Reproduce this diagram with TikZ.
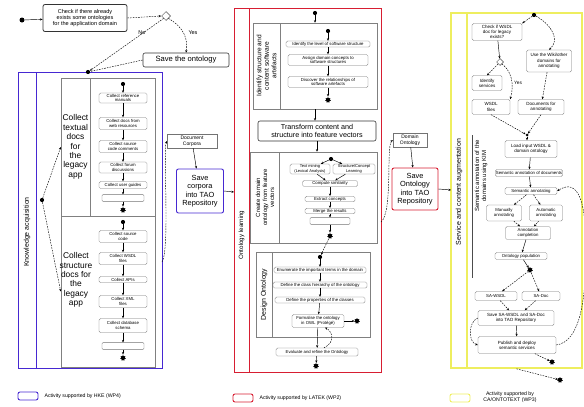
\documentclass[tikz,border=0pt]{standalone}
\usepackage{fontspec}
\setmainfont{Liberation Sans}
\usetikzlibrary{arrows.meta,shapes.geometric,calc}
\definecolor{kablue}{RGB}{70,40,210}
\definecolor{olred}{RGB}{215,30,50}
\definecolor{sayel}{RGB}{238,238,95}
\newcommand\fsz[2]{\fontsize{#1}{#2}\selectfont}
\begin{document}
\begin{tikzpicture}[x=1pt,y=-1pt,
  act/.style={draw=black!55, line width=0.35pt, rounded corners=1.5pt, fill=white, align=center, inner sep=0.6pt, font=\fsz{4.3}{4.9}},
  joinbar/.style={draw=black!55, line width=0.35pt, rounded corners=1pt, minimum height=4pt, fill=white},
  dot/.style={circle, fill=black, inner sep=0pt, minimum size=4.2pt},
  fin/.style={star, star points=7, star point ratio=1.6, fill=black, inner sep=0pt, minimum size=6pt},
  flow/.style={-{Stealth[length=2.6pt,width=2.2pt]}, line width=0.45pt},
  dflow/.style={flow, dash pattern=on 1.6pt off 1.1pt},
  dline/.style={line width=0.45pt, dash pattern=on 1.6pt off 1.1pt},
  lanebox/.style={draw=black!50, line width=0.5pt, inner sep=0pt},
  lanedraw/.style={draw=black!50, line width=0.5pt},
  big/.style={draw=black!80, line width=0.6pt, rounded corners=2pt, align=center, fill=white, inner sep=0.5pt},
  vlabel/.style={rotate=90, align=center},
  legbox/.style={rounded corners=2pt, line width=0.9pt, minimum width=20pt, minimum height=8pt, inner sep=0pt}
]
\useasboundingbox (0,0) rectangle (584,407);

% ---------- swimlane frames ----------
\node[draw=kablue, line width=1pt, minimum width=144pt, minimum height=296pt, inner sep=0pt] (kabox) at (90,220) {};
\draw[kablue, line width=0.8pt] (36,72) -- (36,368);
\node[vlabel, font=\fsz{7}{8}] (kalab) at (27,232) {Knowledge acquisition};

\node[draw=olred, line width=1pt, minimum width=147pt, minimum height=364pt, inner sep=0pt] (olbox) at (307.5,190) {};
\draw[olred, line width=0.8pt] (249,8) -- (249,372);
\node[vlabel, font=\fsz{6.2}{7}] (ollab) at (241.5,235) {Ontology learning};

\node[draw=sayel, line width=1.6pt, minimum width=131pt, minimum height=355pt, inner sep=0pt] (sabox) at (516.5,190.5) {};
\draw[sayel, line width=1.4pt] (467,13) -- (467,368);
\node[vlabel, font=\fsz{7}{8}] (salab) at (459,192) {Service and content augmentation};
\draw[black!70, line width=0.6pt] (472,135) -- (472,278);
\node[vlabel, font=\fsz{6}{6.9}] (salab2) at (481,176) {Semantic annotation of the\\domains using KIM};

% ---------- entry decision ----------
\node[dot, minimum size=5pt] (st) at (22,20) {};
\node[big, line width=0.8pt, minimum width=84pt, minimum height=27pt, font=\fsz{5.6}{6.4}] (chk) at (85,18) {Check if there already\\exists some ontologies\\for the application domain};
\node[diamond, draw=black!70, line width=0.5pt, minimum size=9pt, inner sep=0pt] (dec) at (166,16) {};
\node[big, minimum width=86pt, minimum height=14pt, font=\fsz{7.6}{8}] (savo) at (186,60) {Save the ontology};
\node[dot] (kain) at (88,72) {};
\node[font=\fsz{5.5}{6}] (lno) at (142,33) {No};
\node[font=\fsz{5.5}{6}] (lyes) at (193,33) {Yes};
\draw[flow] (st) -- (chk);
\draw[dflow] (chk.east) -- (dec.west);
\draw[dflow] (dec.south west) -- (kain);
\draw[dflow] (dec.south east) .. controls (185,28) and (188,40) .. (savo.north);
\draw[dline] (savo.west) -- (kain);

% ---------- knowledge acquisition ----------
\node[dot] (kafork) at (42,200) {};
\node[lanebox, minimum width=94pt, minimum height=138pt] (lt) at (108,147) {};
\draw[lanedraw] (90,78) -- (90,216);
\node[font=\fsz{8.4}{9.4}, align=center] (ltlab) at (75.5,147) {Collect\\textual\\docs\\for\\the\\legacy\\app};
\node[lanebox, minimum width=94pt, minimum height=151pt] (ls) at (108,291.5) {};
\node[font=\fsz{8.4}{9.4}, align=center] (lslab) at (76,280) {Collect\\structure\\docs for\\the\\legacy\\app};
\draw[dflow] (kafork) -- (lt.west);
\draw[dflow] (kafork) -- (ls.west);

\node[dot] (t0) at (123,84) {};
\node[act, minimum width=48pt, minimum height=10pt] (t1) at (123,98) {Collect reference\\manuals};
\node[act, minimum width=48pt, minimum height=12pt] (t2) at (123,123.5) {Collect docs from\\web resources};
\node[act, minimum width=48pt, minimum height=12pt] (t3) at (123,146.5) {Collect source\\code comments};
\node[act, minimum width=48pt, minimum height=11pt] (t4) at (123,167.5) {Collect forum\\discussions};
\node[act, minimum width=48pt, minimum height=7pt] (t5) at (123,185) {Collect user guides};
\node[joinbar, minimum width=42pt] (t6) at (123,198) {};
\node[fin] (t7) at (123,210) {};
\foreach \a/\b in {t0/t1,t1/t2,t2/t3,t3/t4,t4/t5,t5/t6,t6/t7} \draw[flow] (\a) -- (\b);

\node[dot] (s0) at (123,222) {};
\node[act, minimum width=48pt, minimum height=12pt] (s1) at (123,236.5) {Collect source\\code};
\node[act, minimum width=48pt, minimum height=12pt] (s2) at (123,258.5) {Collect WSDL\\files};
\node[act, minimum width=48pt, minimum height=6pt] (s3) at (123,279.5) {Collect APIs};
\node[act, minimum width=48pt, minimum height=12pt] (s4) at (123,301.5) {Collect XML\\files};
\node[act, minimum width=48pt, minimum height=14pt] (s5) at (123,325.5) {Collect database\\schema};
\node[joinbar, minimum width=42pt] (s6) at (123,346) {};
\node[fin] (s7) at (123,358) {};
\foreach \a/\b in {s0/s1,s1/s2,s2/s3,s3/s4,s4/s5,s5/s6,s6/s7} \draw[flow] (\a) -- (\b);

% ---------- corpora ----------
\node[act, sharp corners, minimum width=50pt, minimum height=14pt, font=\fsz{5}{5.8}] (corp) at (192,141) {Document\\Corpora};
\node[big, draw=kablue, line width=0.9pt, minimum width=47pt, minimum height=44pt, font=\fsz{7.4}{8.4}] (savc) at (200,191) {Save\\corpora\\into TAO\\Repository};
\coordinate (kaout) at (162,262);
\coordinate (olin) at (234,192);
\draw[dflow] (kaout) .. controls (170,250) and (163,150) .. (corp.west);
\draw[flow] (corp) -- (savc);
\draw[flow] (savc.east) -- (olin);

% ---------- ontology learning ----------
\node[dot] (ol0) at (315,13) {};
\node[lanebox, minimum width=124pt, minimum height=86pt] (sub1) at (315,66) {};
\draw[lanedraw] (280,23) -- (280,109);
\node[vlabel, font=\fsz{6.6}{7.6}] (sub1lab) at (266.5,66) {Identify structure and\\content software\\artefacts};
\draw[flow] (ol0) -- (sub1.north);
\node[dot] (a0) at (328,31) {};
\node[act, minimum width=84pt, minimum height=6pt] (a1) at (328,44) {Identify the level of software structure};
\node[act, minimum width=80pt, minimum height=11pt] (a2) at (328,60) {Assign domain concepts to\\software structures};
\node[act, minimum width=80pt, minimum height=11pt] (a3) at (328,82) {Discover the relationships of\\software artefacts};
\node[fin] (a4) at (328,100) {};
\foreach \a/\b in {a0/a1,a1/a2,a2/a3,a3/a4} \draw[flow] (\a) -- (\b);

\node[big, minimum width=118pt, minimum height=20pt, font=\fsz{7.2}{8}] (trf) at (317,131) {Transform content and\\structure into feature vectors};
\draw[flow] (sub1.south) -- (sub1.south |- trf.north);

\node[lanebox, minimum width=127pt, minimum height=91pt] (sub3) at (313.5,197.5) {};
\draw[lanedraw] (279,152) -- (279,243);
\node[vlabel, font=\fsz{6}{7}] (sub3lab) at (265,197.5) {Create domain\\ontology from feature\\vectors};
\draw[flow] (trf.south) -- (trf.south |- sub3.north);
\node[dot] (b0) at (331,159) {};
\node[act, minimum width=40pt, minimum height=10pt, font=\fsz{4}{4.6}] (b1) at (310,169) {Text mining\\(Lexical Analysis)};
\node[act, minimum width=42pt, minimum height=10pt, font=\fsz{4}{4.6}] (b2) at (354,169) {Structure/Concept\\Learning};
\node[act, minimum width=55pt, minimum height=6pt] (b3) at (330,183.5) {Compute similarity};
\node[act, minimum width=50pt, minimum height=5.5pt] (b4) at (330,199) {Extract concepts};
\node[act, minimum width=50pt, minimum height=5.5pt] (b5) at (330,211) {Merge the results};
\node[joinbar, minimum width=40pt] (b6) at (330,221) {};
\node[fin] (b7) at (330,236) {};
\foreach \a/\b in {b0/b1,b0/b2,b1/b3,b2/b3,b3/b4,b4/b5,b5/b6,b6/b7} \draw[flow] (\a) -- (\b);

\node[lanebox, minimum width=114pt, minimum height=85pt] (sub4) at (313,294.5) {};
\draw[lanedraw] (272,252) -- (272,337);
\node[vlabel, font=\fsz{7}{8}] (sub4lab) at (264,294.5) {Design Ontology};
\node[dot] (d0) at (320,257) {};
\draw[dflow] (b7) -- (d0);
\node[act, minimum width=92pt, minimum height=6pt] (d1) at (320,270) {Enumerate the important terms in the domain};
\node[act, minimum width=94pt, minimum height=6pt] (d2) at (320,285) {Define the class hierarchy of the ontology};
\node[act, minimum width=90pt, minimum height=6pt] (d3) at (320,300) {Define the properties of the classes};
\node[act, minimum width=52pt, minimum height=13pt] (d4) at (318,321) {Formalise the ontology\\in OWL (Protégé)};
\node[fin] (d4f) at (357,321) {};
\node[act, minimum width=82pt, minimum height=8pt] (d5) at (317,352) {Evaluate and refine the Ontology};
\node[fin] (d6) at (316,366) {};
\foreach \a/\b in {d0/d1,d1/d2,d2/d3,d3/d4,d4/d5,d4/d4f,d5/d6} \draw[flow] (\a) -- (\b);
\draw[dflow] ($(d5.north)+(7,0)$) .. controls (336,342) and (332,331) .. ($(d4.south)+(7,0)$);

% ---------- domain ontology ----------
\node[act, sharp corners, minimum width=34pt, minimum height=14pt, font=\fsz{5}{5.8}] (dont) at (410,140) {Domain\\Ontology};
\node[big, draw=olred, line width=0.9pt, minimum width=46pt, minimum height=42pt, font=\fsz{7.4}{8.4}] (savont) at (415,189) {Save\\Ontology\\into TAO\\Repository};
\coordinate (olout) at (381,222);
\coordinate (sain) at (451,190);
\draw[dflow] (olout) .. controls (393,212) and (386,146) .. (dont.west);
\draw[flow] (dont) -- (savont);
\draw[flow] (savont.east) -- (sain);

% ---------- service and content augmentation ----------
\node[dot] (y0) at (534,15) {};
\node[act, minimum width=50pt, minimum height=17pt, font=\fsz{4.5}{5.2}] (y1) at (497,32) {Check if WSDL\\doc for legacy\\exists?};
\node[act, minimum width=45pt, minimum height=22pt, font=\fsz{4.5}{5.2}] (y2) at (549,61) {Use the Wiki/other\\domains for\\annotating};
\node[diamond, draw=black!70, line width=0.5pt, minimum size=7pt, inner sep=0pt] (y3) at (500,62) {};
\node[act, minimum width=30pt, minimum height=15pt, font=\fsz{4.5}{5.2}] (y4) at (487,83) {Identify\\services};
\node[font=\fsz{4.8}{5.4}] (ylyes) at (518,83) {Yes};
\node[act, minimum width=38pt, minimum height=15pt, font=\fsz{4.5}{5.2}] (y5) at (491,107) {WSDL\\files};
\node[act, minimum width=46pt, minimum height=15pt, font=\fsz{4.5}{5.2}] (y6) at (541,107) {Documents for\\annotating};
\node[dot, minimum size=3pt] (yj) at (527,135) {};
\node[act, minimum width=52pt, minimum height=17pt, font=\fsz{4.5}{5.2}] (y7) at (531,149) {Load input WSDL \&\\domain ontology};
\node[act, minimum width=64pt, minimum height=7pt] (y8) at (529,173) {Semantic annotation of documents};
\node[act, minimum width=52pt, minimum height=7pt] (y9) at (531,191) {Semantic annotating};
\node[act, minimum width=35pt, minimum height=16pt] (y10) at (504,213) {Manually\\annotating};
\node[act, minimum width=33pt, minimum height=16pt] (y11) at (546,213) {Automatic\\annotating};
\node[act, minimum width=45pt, minimum height=13pt] (y12) at (528,233) {Annotation\\completion};
\node[act, minimum width=52pt, minimum height=7pt] (y13) at (521,256) {Ontology population};
\node[fin] (y14) at (530,270) {};
\node[act, minimum width=42pt, minimum height=9pt] (y15) at (496,296) {SA-WSDL};
\node[act, minimum width=38pt, minimum height=9pt] (y16) at (541,296) {SA-Doc};
\node[act, minimum width=76pt, minimum height=15pt, font=\fsz{4.5}{5.2}] (y17) at (516,318) {Save SA-WSDL and SA-Doc\\into TAO Repository};
\node[act, minimum width=78pt, minimum height=17pt, font=\fsz{4.5}{5.2}] (y18) at (517,345) {Publish and deploy\\semantic services};
\node[fin] (y19) at (552,362) {};
\node[fin] (y20) at (560,380) {};

\draw[dflow] (y0) -- (y1.north east);
\draw[dflow] (y0) .. controls (552,25) and (560,40) .. (y2.north);
\draw[flow] (y1) -- (y3);
\draw[dflow] (y3) -- (y4.north);
\draw[dflow] (y3.south east) .. controls (516,75) and (512,92) .. (y5.north east);
\draw[dflow] (y2) -- (y6);
\draw[dflow] (y5.south) -- (yj);
\draw[dflow] (y6.south) -- (yj);
\draw[flow] (yj) -- (y7.north -| yj);
\foreach \a/\b in {y7/y8,y8/y9,y12/y13,y13/y14,y17/y18} \draw[flow] (\a) -- (\b);
\foreach \a/\b in {y9/y10,y9/y11,y10/y12,y11/y12,y14/y15,y14/y16,y15/y17,y16/y17,y18/y19} \draw[dflow] (\a) -- (\b);
\draw[dflow] (y17.west) .. controls (468,322) and (468,342) .. (y18.west);
\draw[dflow] (y18.east) .. controls (580,342) and (586,300) .. (586,250) .. controls (586,200) and (578,178) .. (y9.east);
\draw[dflow] (sabox.south) -- (y20);

% ---------- legend ----------
\node[legbox, draw=kablue] (lg1) at (28,396) {};
\node[anchor=west, font=\fsz{5.2}{6}] (lg1t) at (41,396) {Activity supported by HKE (WP4)};
\node[legbox, draw=olred] (lg2) at (243,398) {};
\node[anchor=west, font=\fsz{5.2}{6}] (lg2t) at (256,398) {Activity supported by LATEK (WP2)};
\node[legbox, draw=sayel] (lg3) at (460,398) {};
\node[align=center, font=\fsz{5.2}{6}] (lg3t) at (510,397) {Activity supported by\\CA/ONTOTEXT (WP3)};
\end{tikzpicture}
\end{document}
